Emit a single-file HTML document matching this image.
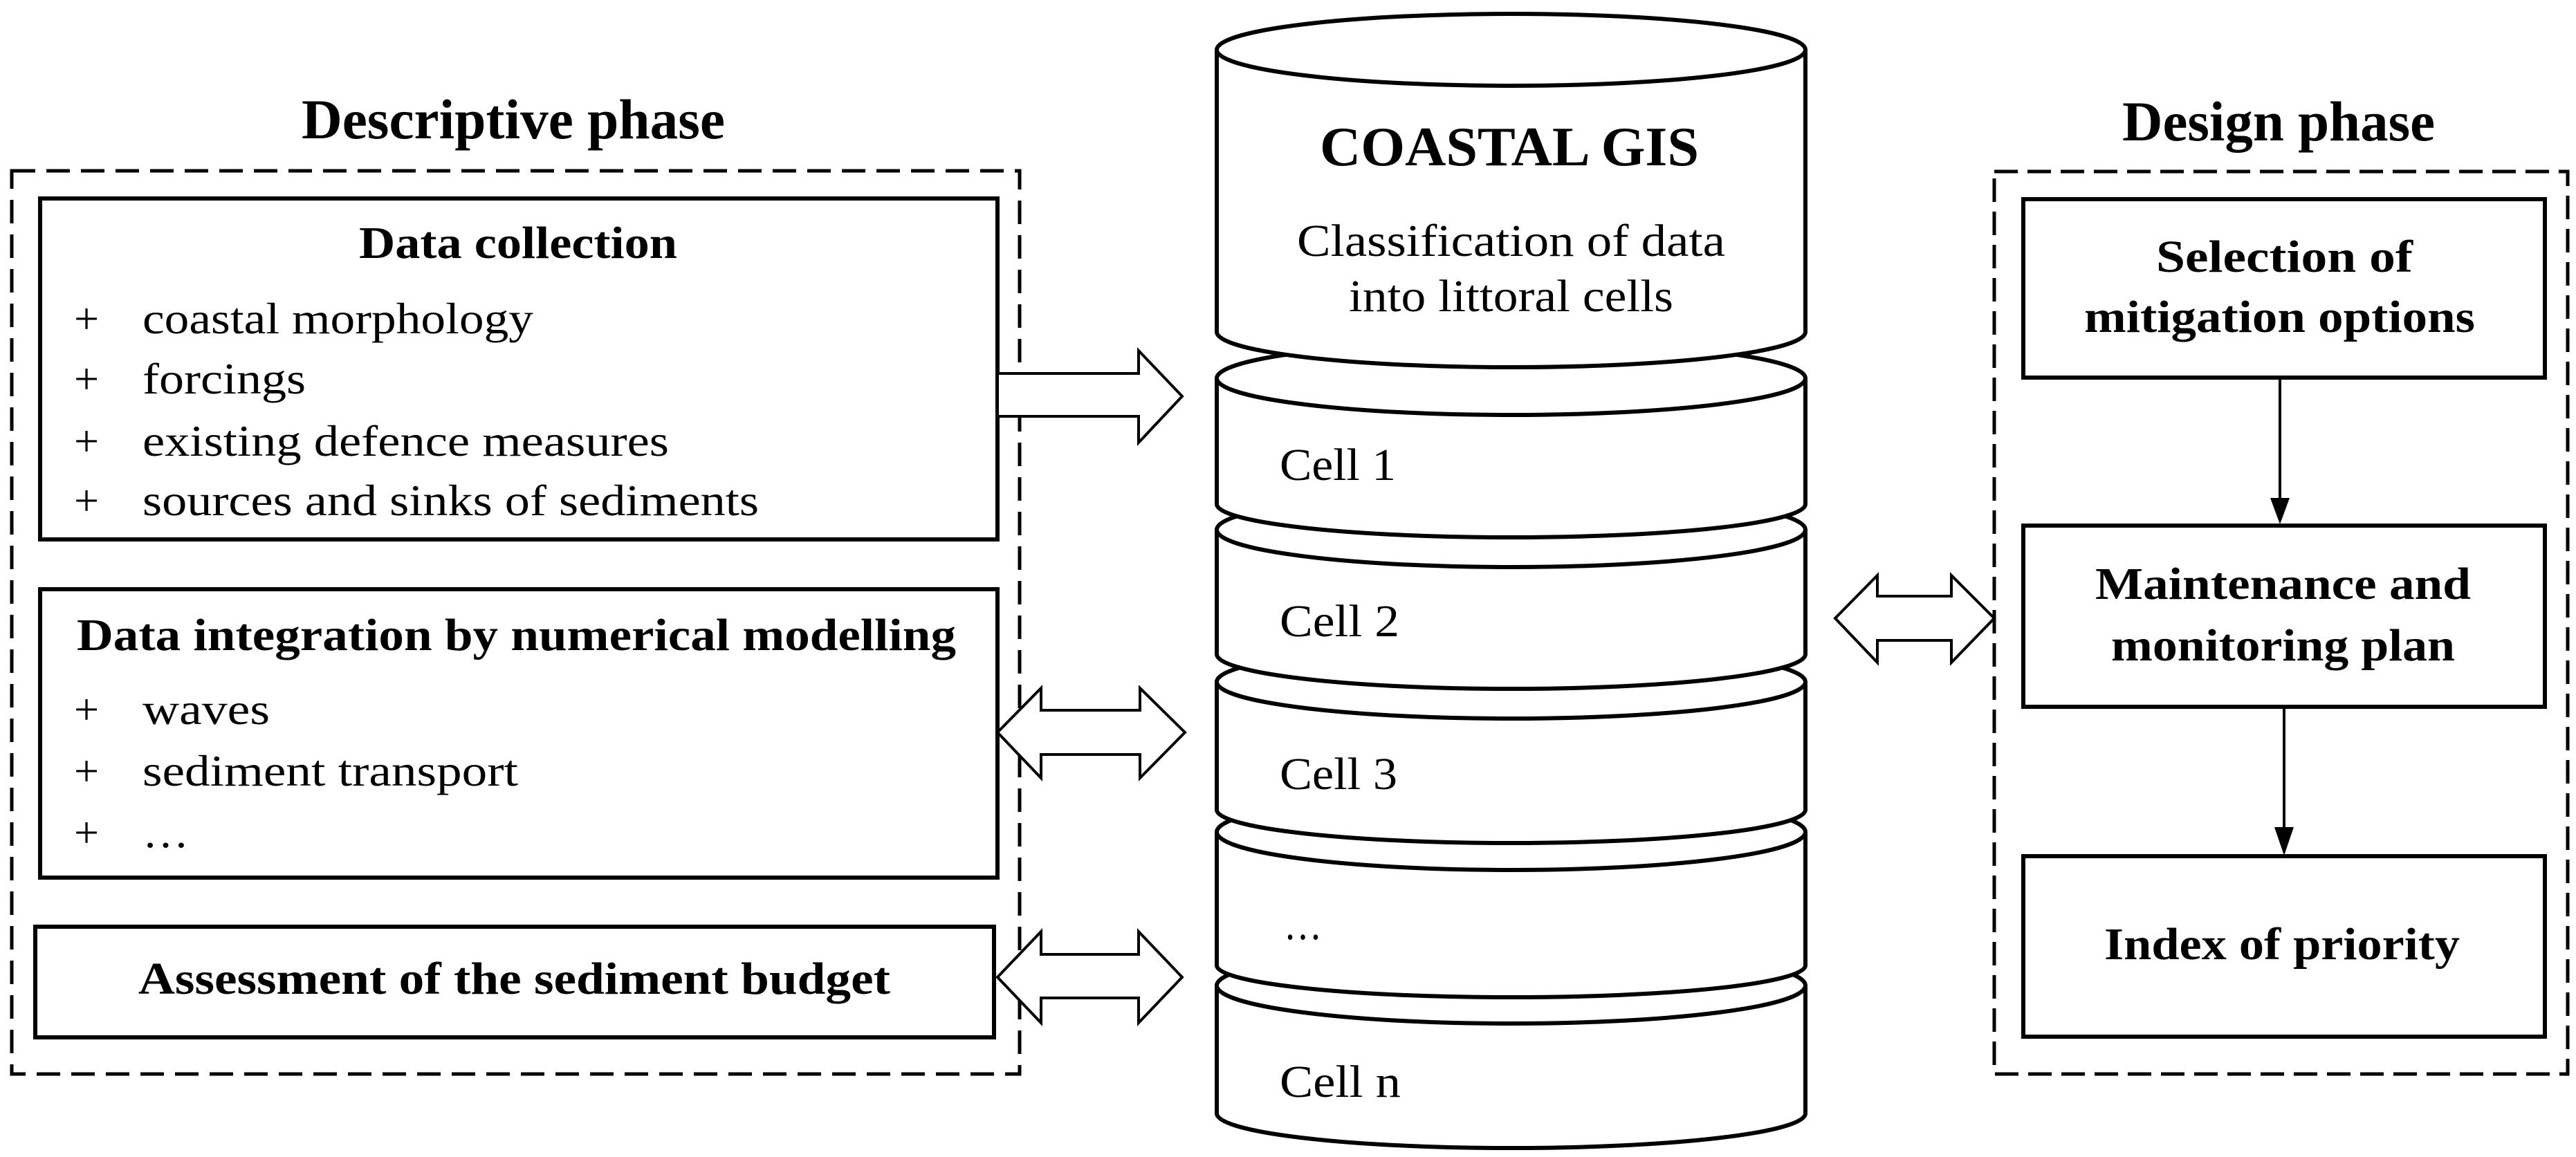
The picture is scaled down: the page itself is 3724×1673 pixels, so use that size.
<!DOCTYPE html>
<html><head><meta charset="utf-8"><style>
html,body{margin:0;padding:0;background:#fff;}
svg{display:block;}
text{font-family:"Liberation Serif",serif;fill:#000;}
.b{font-weight:bold;}
</style></head><body>
<svg width="3724" height="1673" viewBox="0 0 3724 1673" xmlns="http://www.w3.org/2000/svg">
<rect width="3724" height="1673" fill="#fff"/>
<g fill="none" stroke="#000">
<rect x="17" y="247" width="1457" height="1306" stroke-width="5" stroke-dasharray="34,16"/>
<rect x="2883" y="248" width="829" height="1305" stroke-width="5" stroke-dasharray="34,14"/>
</g>
<g fill="#fff" stroke="#000" stroke-width="6">
<rect x="58" y="287" width="1384" height="493"/>
<rect x="58" y="852" width="1384" height="417"/>
<rect x="51" y="1340" width="1386" height="160"/>
<rect x="2925" y="288" width="754" height="258"/>
<rect x="2925" y="760" width="754" height="262"/>
<rect x="2925" y="1238" width="754" height="261"/>
</g>
<g fill="#fff" stroke="#000" stroke-width="4">
<polygon points="1442,540 1646,540 1646,507 1709,573 1646,640 1646,602 1442,602"/>
<polygon points="1442,1059 1505,995 1505,1027 1648,1027 1648,995 1713,1059 1648,1125 1648,1091 1505,1091 1505,1125"/>
<polygon points="1442,1413 1505,1347 1505,1380 1646,1380 1646,1347 1709,1413 1646,1479 1646,1443 1505,1443 1505,1479"/>
<polygon points="2653,894 2714,832 2714,862 2821,862 2821,832 2883,894 2821,958 2821,926 2714,926 2714,958"/>
</g>
<g stroke="#000" stroke-width="4">
<line x1="3296" y1="546" x2="3296" y2="725"/>
<line x1="3302" y1="1022" x2="3302" y2="1200"/>
</g>
<polygon points="3282,720 3310,720 3296,758" fill="#000"/>
<polygon points="3288,1196 3316,1196 3302,1237" fill="#000"/>
<!-- cylinders, bottom up -->
<g fill="#fff" stroke="#000" stroke-width="6">
<path d="M1759,1425 L1759,1610 A425,50 0 0 0 2610,1610 L2610,1425"/>
<ellipse cx="2184.5" cy="1425" rx="425.5" ry="55"/>
<path d="M1759,1203 L1759,1396 A425,46 0 0 0 2610,1396 L2610,1203"/>
<ellipse cx="2184.5" cy="1203" rx="425.5" ry="55"/>
<path d="M1759,986 L1759,1171 A425,48 0 0 0 2610,1171 L2610,986"/>
<ellipse cx="2184.5" cy="986" rx="425.5" ry="53"/>
<path d="M1759,766 L1759,946 A425,50 0 0 0 2610,946 L2610,766"/>
<ellipse cx="2184.5" cy="766" rx="425.5" ry="54"/>
<path d="M1759,547 L1759,729 A425,48 0 0 0 2610,729 L2610,547"/>
<ellipse cx="2184.5" cy="547" rx="425.5" ry="53"/>
<path d="M1759,72 L1759,480 A425,51 0 0 0 2610,480 L2610,72"/>
<ellipse cx="2184.5" cy="72" rx="425.5" ry="52"/>
</g>
<!-- texts -->
<text class="b" x="436" y="200" font-size="82" textLength="612" lengthAdjust="spacingAndGlyphs">Descriptive phase</text>
<text class="b" x="3068" y="203" font-size="82" textLength="452" lengthAdjust="spacingAndGlyphs">Design phase</text>
<text class="b" x="519" y="373" font-size="66" textLength="460" lengthAdjust="spacingAndGlyphs">Data collection</text>
<g font-size="64">
<text x="107" y="482">+</text><text x="206" y="482" textLength="565" lengthAdjust="spacingAndGlyphs">coastal morphology</text>
<text x="107" y="569">+</text><text x="206" y="569" textLength="236" lengthAdjust="spacingAndGlyphs">forcings</text>
<text x="107" y="659">+</text><text x="206" y="659" textLength="761" lengthAdjust="spacingAndGlyphs">existing  defence measures</text>
<text x="107" y="745">+</text><text x="206" y="745" textLength="891" lengthAdjust="spacingAndGlyphs">sources and sinks of sediments</text>
<text x="107" y="1047">+</text><text x="206" y="1047" textLength="184" lengthAdjust="spacingAndGlyphs">waves</text>
<text x="107" y="1136">+</text><text x="206" y="1136" textLength="543" lengthAdjust="spacingAndGlyphs">sediment transport</text>
<text x="107" y="1225">+</text><text x="206" y="1225" textLength="67" lengthAdjust="spacingAndGlyphs">…</text>
</g>
<text class="b" x="111" y="940" font-size="66" textLength="1271" lengthAdjust="spacingAndGlyphs">Data integration by numerical modelling</text>
<text class="b" x="200" y="1437" font-size="66" textLength="1087" lengthAdjust="spacingAndGlyphs">Assessment of the sediment budget</text>
<text class="b" x="1908" y="239" font-size="80" textLength="548" lengthAdjust="spacingAndGlyphs">COASTAL  GIS</text>
<text x="1875" y="370" font-size="66" textLength="619" lengthAdjust="spacingAndGlyphs">Classification of data</text>
<text x="1950" y="450" font-size="66" textLength="469" lengthAdjust="spacingAndGlyphs">into littoral  cells</text>
<g font-size="66">
<text x="1850" y="694" textLength="168" lengthAdjust="spacingAndGlyphs">Cell  1</text>
<text x="1850" y="920" textLength="173" lengthAdjust="spacingAndGlyphs">Cell  2</text>
<text x="1850" y="1141" textLength="170" lengthAdjust="spacingAndGlyphs">Cell  3</text>
<text x="1856" y="1358" textLength="55" lengthAdjust="spacingAndGlyphs">…</text>
<text x="1850" y="1586" textLength="175" lengthAdjust="spacingAndGlyphs">Cell  n</text>
</g>
<g class="b" font-size="66">
<text class="b" x="3117" y="393" textLength="371" lengthAdjust="spacingAndGlyphs">Selection of</text>
<text class="b" x="3013" y="480" textLength="565" lengthAdjust="spacingAndGlyphs">mitigation options</text>
<text class="b" x="3029" y="866" textLength="543" lengthAdjust="spacingAndGlyphs">Maintenance and</text>
<text class="b" x="3052" y="955" textLength="497" lengthAdjust="spacingAndGlyphs">monitoring plan</text>
<text class="b" x="3042" y="1387" textLength="514" lengthAdjust="spacingAndGlyphs">Index of priority</text>
</g>
</svg>
</body></html>
